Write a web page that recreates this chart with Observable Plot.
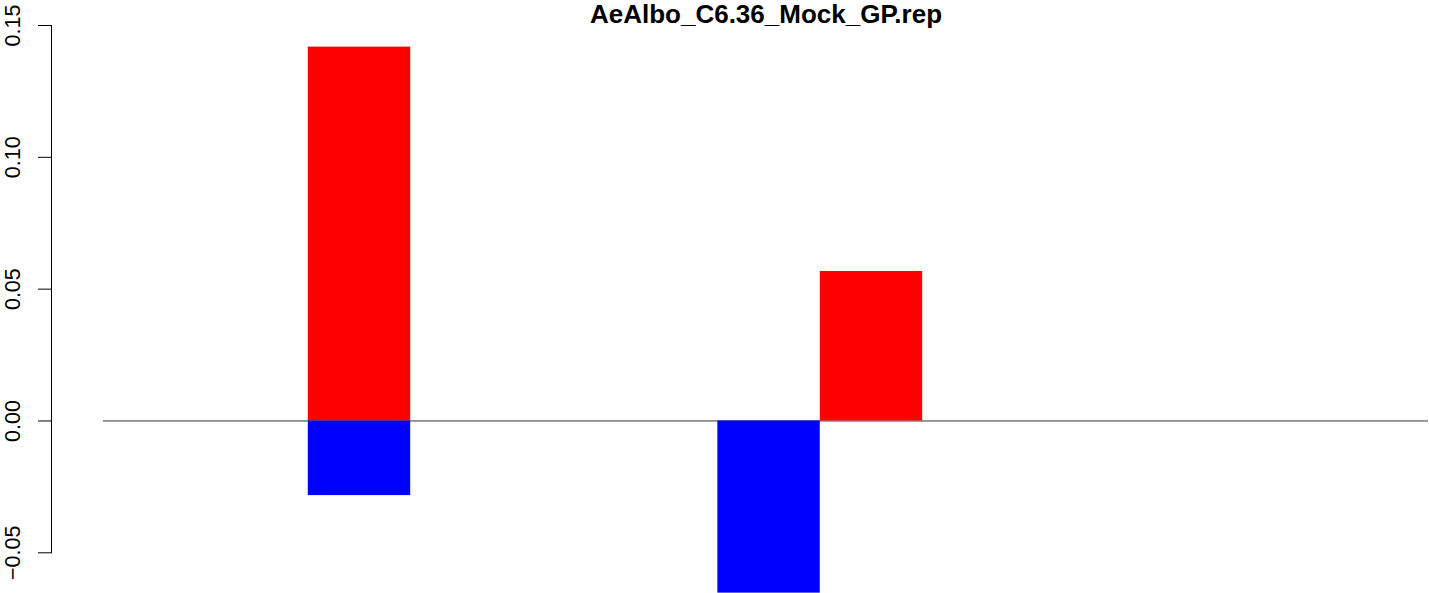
<!DOCTYPE html>
<html>
<head>
<meta charset="utf-8">
<script src="https://cdn.jsdelivr.net/npm/d3@7"></script>
<script src="https://cdn.jsdelivr.net/npm/@observablehq/plot@0.6"></script>
<style>
  html, body { margin: 0; padding: 0; background: #fff; }
  #chart svg { display: block; }
</style>
</head>
<body>
<div id="chart"></div>
<script>
const title = "AeAlbo_C6.36_Mock_GP.rep";
// bar slots (position index along the x axis) and values
const redSlots = [2, 7];
const redValues = [0.1418, 0.0567];
const blueSlots = [2, 6];
const blueValues = [-0.0283, -0.0653];
const yTicks = [-0.05, 0, 0.05, 0.10, 0.15];
const slotCount = 12.94;

const red = redSlots.map((s, i) => ({slot: s, value: redValues[i]}));
const blue = blueSlots.map((s, i) => ({slot: s, value: blueValues[i]}));
const fmt = d3.format(".2f");
const font = "'Liberation Sans', Arial, Helvetica, sans-serif";

const chart = Plot.plot({
  width: 1429,
  height: 593,
  marginLeft: 103,
  marginRight: 1,
  marginTop: 25,
  marginBottom: 40.7,
  style: {fontFamily: font, background: "#fff", overflow: "visible"},
  x: {domain: [0, slotCount], axis: null},
  y: {domain: [-0.05, 0.15], axis: null},
  marks: [
    Plot.ruleY([0], {stroke: "#333", strokeWidth: 1}),
    Plot.rectY(red, {x1: "slot", x2: d => d.slot + 1, y: "value", fill: "#ff0000", inset: 0}),
    Plot.rectY(blue, {x1: "slot", x2: d => d.slot + 1, y: "value", fill: "#0000ff", inset: 0}),
    Plot.frame({anchor: "left", dx: -52, stroke: "#000", strokeWidth: 1}),
    Plot.axisY({ticks: yTicks, tickSize: 13, dx: -52, tickFormat: () => "", stroke: "#000", strokeOpacity: 1, label: null}),
    Plot.text(yTicks, {y: d => d, text: d => fmt(d), frameAnchor: "left", dx: -90, rotate: -90,
      textAnchor: "middle", lineAnchor: "middle", fontSize: 21.5, fill: "#000"}),
    Plot.text([title], {frameAnchor: "top", dy: -3, lineAnchor: "bottom", fontSize: 26,
      fontWeight: "bold", fill: "#000"})
  ]
});
document.getElementById("chart").append(chart);
</script>
</body>
</html>
